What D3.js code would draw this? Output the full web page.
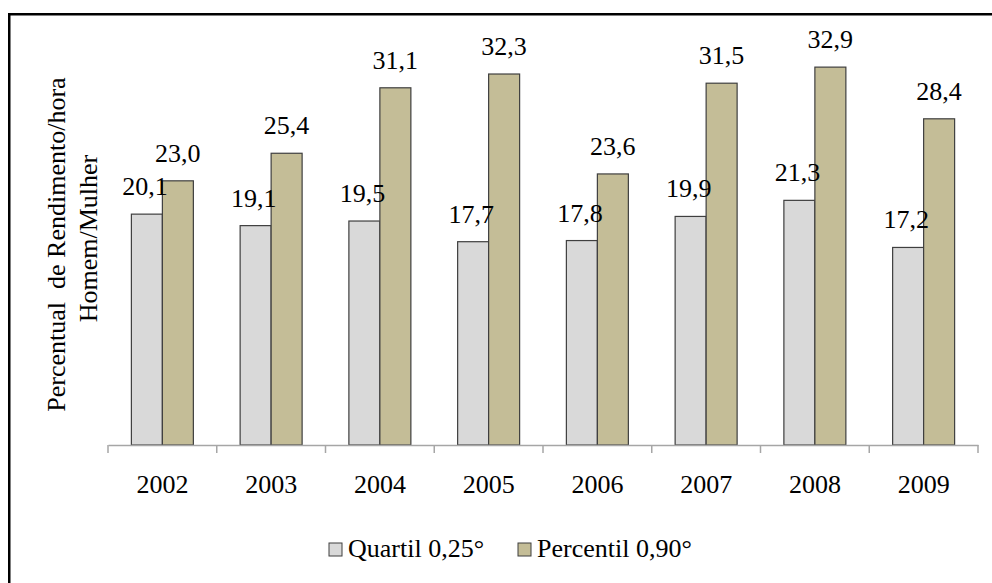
<!DOCTYPE html>
<html><head><meta charset="utf-8">
<script src="https://cdn.jsdelivr.net/npm/d3@7"></script>
<style>html,body{margin:0;padding:0;background:#fff;}svg{display:block;}
svg text{font-family:"Liberation Serif","Times New Roman",Tinos,"DejaVu Serif",serif;}</style>
</head><body>
<svg id="chart" width="992" height="583"></svg>
<script>
const years = ["2002","2003","2004","2005","2006","2007","2008","2009"];
const quartil = [20.1, 19.1, 19.5, 17.7, 17.8, 19.9, 21.3, 17.2];
const percentil = [23.0, 25.4, 31.1, 32.3, 23.6, 31.5, 32.9, 28.4];
const seriesNames = ["Quartil 0,25°", "Percentil 0,90°"];
const seriesColors = ["#d9d9d9", "#c4bd97"];
const yTitleLines = ["Percentual\u00a0 de Rendimento/hora", "Homem/Mulher"];

const svg = d3.select("#chart");
const fs = 26;

// outer frame (cut at right/bottom)
svg.append("rect").attr("x", 9.25).attr("y", 14.25).attr("width", 1200).attr("height", 800)
  .attr("fill", "none").attr("stroke", "#000").attr("stroke-width", 2.5);

const plot = {left: 108, right: 978, top: 43, bottom: 445};
const x = d3.scaleBand().domain(years).range([plot.left, plot.right]).padding(0);
const y = d3.scaleLinear().domain([0, 35]).range([plot.bottom, plot.top]);
const bw = x.bandwidth() * 0.285;

const data = [quartil, percentil];

// bars
data.forEach((vals, s) => {
  svg.append("g").selectAll("rect").data(years).join("rect")
    .attr("x", d => x(d) + x.bandwidth()/2 + (s === 0 ? -bw : 0))
    .attr("y", (d, i) => y(vals[i]))
    .attr("width", bw)
    .attr("height", (d, i) => y(0) - y(vals[i]))
    .attr("fill", seriesColors[s])
    .attr("stroke", "#3f3f3f").attr("stroke-width", 1.2);
});

// axis
const axis = d3.axisBottom(x).tickSize(0).tickFormat("");
const ag = svg.append("g").attr("transform", `translate(0,${plot.bottom})`).call(axis);
ag.select(".domain").attr("stroke", "#a6a6a6").attr("stroke-width", 1.5);
const bounds = years.map(d => x(d)).concat([plot.right]);
ag.selectAll("line.tk").data(bounds).join("line").attr("class", "tk")
  .attr("x1", d => d).attr("x2", d => d).attr("y1", 0).attr("y2", 8)
  .attr("stroke", "#a6a6a6").attr("stroke-width", 1.5);
svg.append("g").selectAll("text").data(years).join("text")
  .attr("x", d => x(d) + x.bandwidth()/2).attr("y", 493)
  .attr("text-anchor", "middle").style("font-size", fs + "px")
  .attr("fill", "#000").text(d => d);

// value labels
data.forEach((vals, s) => {
  svg.append("g").selectAll("text").data(years).join("text")
    .attr("x", d => x(d) + x.bandwidth()/2 + (s === 0 ? -bw/2 - 2 : bw/2))
    .attr("y", (d, i) => y(vals[i]) - 19)
    .attr("text-anchor", "middle").style("font-size", fs + "px")
    .attr("fill", "#000").text((d, i) => vals[i].toFixed(1).replace(".", ","));
});

// y title
const yt = svg.append("text").attr("transform", "rotate(-90)")
  .attr("text-anchor", "middle").style("font-size", fs + "px").attr("fill", "#000");
yt.selectAll("tspan").data(yTitleLines).join("tspan")
  .attr("x", (d, i) => i === 0 ? -244.5 : -238.5).attr("y", (d, i) => 65 + i * 32).text(d => d);

// legend
const legX = [329, 518];
seriesNames.forEach((n, s) => {
  svg.append("rect").attr("x", legX[s]).attr("y", 543).attr("width", 13).attr("height", 13)
    .attr("fill", seriesColors[s]).attr("stroke", "#3f3f3f").attr("stroke-width", 1);
  svg.append("text").attr("x", legX[s] + 19).attr("y", 557)
    .style("font-size", fs + "px").attr("fill", "#000").text(n);
});
</script>
</body></html>
